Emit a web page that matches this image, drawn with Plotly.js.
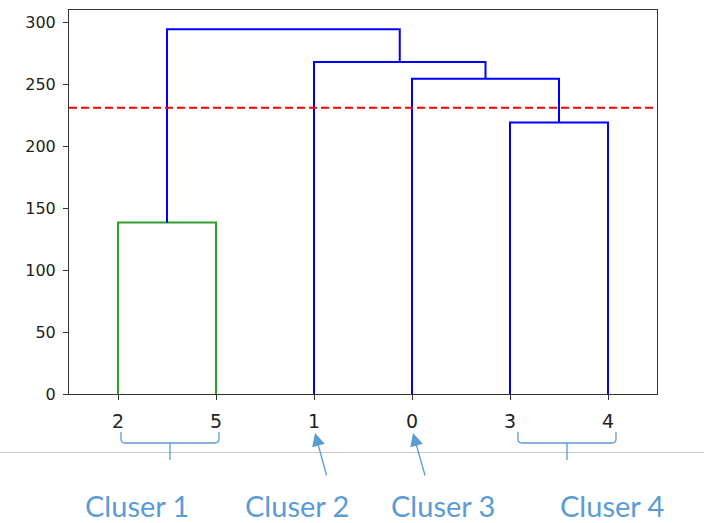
<!DOCTYPE html>
<html>
<head>
<meta charset="utf-8">
<script src="https://cdn.plot.ly/plotly-3.0.1.min.js"></script>
<style>html,body{margin:0;padding:0;background:#fff;}#chart{width:704px;height:523px;}</style>
</head>
<body>
<div id="chart"></div>
<script>
// Leaf labels in dendrogram order
const leafLabels = ['2', '5', '1', '0', '3', '4'];
// Merges (children are leaf indices 0..5 or node ids 6..), merge heights
const mergeLeft  = [0, 4, 3, 2, 6];
const mergeRight = [1, 5, 7, 8, 9];
const mergeHeight = [138.5, 219.3, 254.8, 268.3, 294.8];
const mergeColor = ['#2ca02c', '#0000ff', '#0000ff', '#0000ff', '#0000ff'];
const cutHeight = 231.3;
const clusterNames = ['Cluser 1', 'Cluser 2', 'Cluser 3', 'Cluser 4'];

// Layout geometry (pixels)
const W = 704, H = 523, L = 69, R = 657, T = 10, B = 394;
const px = x => (x - L) / (R - L);
const py = y => (B - y) / (B - T);

// dendrogram positions
const nodeX = leafLabels.map((_, i) => 5 + 10 * i);
const nodeY = leafLabels.map(() => 0);
const traces = [];
mergeLeft.forEach((a, k) => {
  const b = mergeRight[k], h = mergeHeight[k];
  traces.push({
    type: 'scatter', mode: 'lines',
    x: [nodeX[a], nodeX[a], nodeX[b], nodeX[b]],
    y: [nodeY[a], h, h, nodeY[b]],
    line: {color: mergeColor[k], width: 2},
    hoverinfo: 'skip', showlegend: false
  });
  nodeX.push((nodeX[a] + nodeX[b]) / 2);
  nodeY.push(h);
});
traces.push({
  type: 'scatter', mode: 'lines',
  x: [0, leafLabels.length * 10], y: [cutHeight, cutHeight],
  line: {color: '#ff0000', width: 2, dash: '8px,4px'},
  hoverinfo: 'skip', showlegend: false
});

const blue = '#5b9bd5';
function brace(x1, x2, xm, yTop, yMid, yStem) {
  const r = 4;
  return 'M' + px(x1) + ',' + py(yTop) +
    ' L' + px(x1) + ',' + py(yMid - r) +
    ' Q' + px(x1) + ',' + py(yMid) + ' ' + px(x1 + r) + ',' + py(yMid) +
    ' L' + px(x2 - r) + ',' + py(yMid) +
    ' Q' + px(x2) + ',' + py(yMid) + ' ' + px(x2) + ',' + py(yMid - r) +
    ' L' + px(x2) + ',' + py(yTop) +
    ' M' + px(xm) + ',' + py(yMid) + ' L' + px(xm) + ',' + py(yStem);
}
const shapes = [
  {type: 'line', xref: 'paper', yref: 'paper', x0: px(0), x1: px(W), y0: py(452.5), y1: py(452.5),
   line: {color: '#c8c8c8', width: 1}},
  {type: 'path', xref: 'paper', yref: 'paper', path: brace(121, 219, 170, 432, 443, 460),
   line: {color: blue, width: 1.3}},
  {type: 'path', xref: 'paper', yref: 'paper', path: brace(518, 616, 567, 432, 443, 460),
   line: {color: blue, width: 1.3}}
];

const clusterX = [137, 296.5, 442.5, 611.5];
const annotations = clusterNames.map((t, i) => ({
  xref: 'paper', yref: 'paper', x: px(clusterX[i]), y: py(505),
  xanchor: 'center', yanchor: 'middle', showarrow: false, text: t, borderpad: 0,
  font: {family: 'Lato, "Open Sans", sans-serif', size: 29, color: blue}
}));
[[315, 433, 327, 477], [413, 433, 425.5, 477]].forEach(a => {
  annotations.push({
    xref: 'paper', yref: 'paper', x: px(a[0]), y: py(a[1]),
    axref: 'pixel', ayref: 'pixel', ax: a[2] - a[0], ay: a[3] - a[1],
    text: '', showarrow: true, arrowhead: 2, arrowsize: 2, arrowwidth: 1.3, arrowcolor: blue
  });
});

const axisCommon = {
  showgrid: false, zeroline: false, showline: true, mirror: true,
  linecolor: '#333', linewidth: 1, ticks: 'outside', ticklen: 5, tickcolor: '#333'
};
const layout = {
  width: W, height: H,
  margin: {l: L, r: W - R, t: T, b: H - B, pad: 0},
  paper_bgcolor: '#fff', plot_bgcolor: '#fff',
  showlegend: false,
  xaxis: Object.assign({}, axisCommon, {
    range: [0, leafLabels.length * 10], tickmode: 'array',
    tickvals: leafLabels.map((_, i) => 5 + 10 * i), ticktext: leafLabels,
    ticklabelstandoff: 5,
    tickfont: {family: '"DejaVu Sans", sans-serif', size: 19, color: '#222'}
  }),
  yaxis: Object.assign({}, axisCommon, {
    range: [0, 310.3], tickmode: 'array', tickvals: [0, 50, 100, 150, 200, 250, 300],
    ticklabelstandoff: 4,
    tickfont: {family: '"DejaVu Sans", sans-serif', size: 16, color: '#222'}
  }),
  shapes: shapes,
  annotations: annotations
};
Plotly.newPlot('chart', traces, layout, {staticPlot: true, displayModeBar: false});
</script>
</body>
</html>
